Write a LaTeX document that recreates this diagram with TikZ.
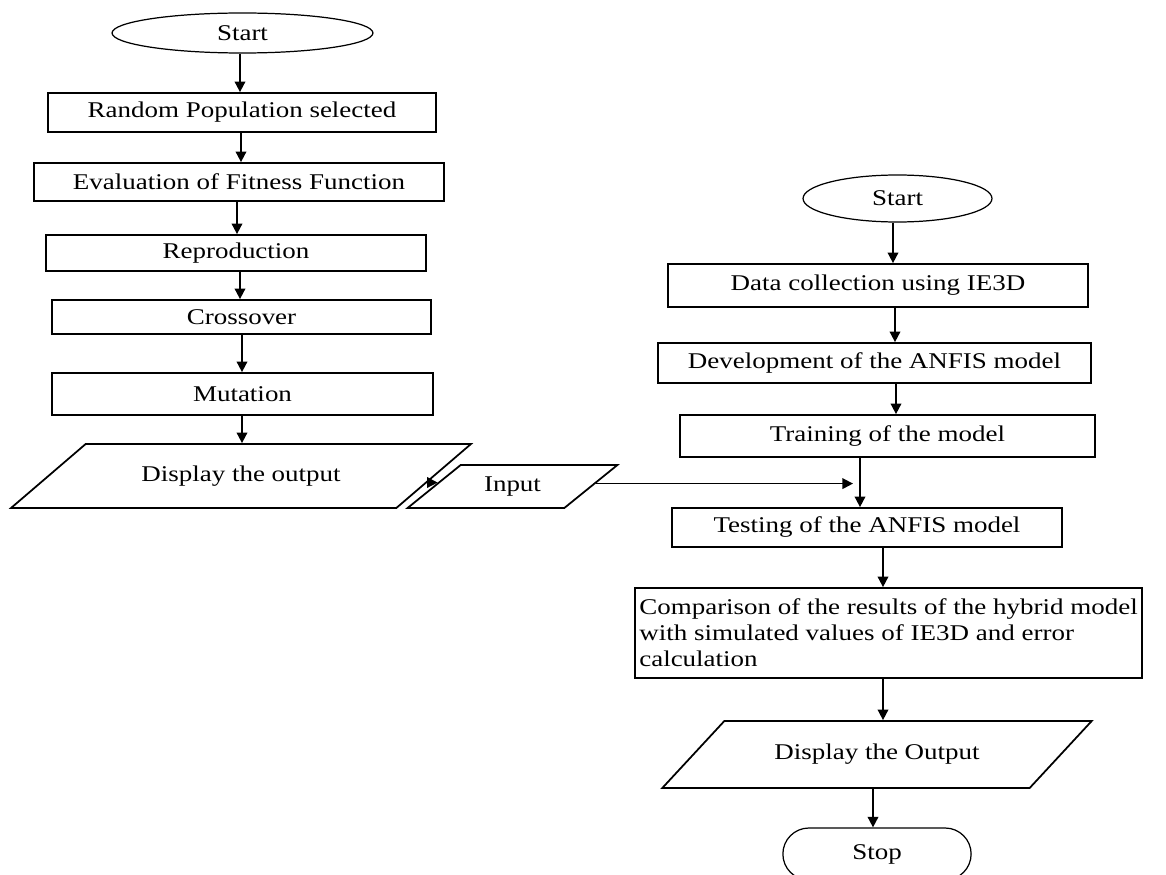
\documentclass[tikz,border=0pt]{standalone}
\usepackage{fontspec}
\setmainfont{Liberation Serif}[FakeStretch=1.2]
\usetikzlibrary{arrows.meta, positioning, shapes.geometric, shapes.misc, calc}

\begin{document}
\begin{tikzpicture}[x=0.02cm, y=-0.02cm,
  font=\fontsize{12.8}{14.7}\selectfont,
  box/.style={draw, line width=1pt, inner sep=2pt},
  oval/.style={draw, ellipse, line width=0.7pt, inner sep=0pt},
  iobox/.style={draw, trapezium, trapezium stretches=true, line width=1pt, inner sep=2pt},
  arr/.style={line width=1pt, -{Triangle[length=6pt,width=6pt]}}]
\useasboundingbox (0,0) rectangle (1166,875);

% GA flow (left)
\node[oval, minimum width=5.22cm, minimum height=0.8cm] (gstart) at (242.5,33) {Start};
\node[box, minimum width=7.76cm, minimum height=0.78cm] (rpop) at (242,112.5) {Random Population selected};
\node[box, minimum width=8.2cm, minimum height=0.76cm] (fit) at (239,182) {Evaluation of Fitness Function};
\node[box, minimum width=7.6cm, minimum height=0.72cm] (repro) at (236,253) {Reproduction};
\node[box, minimum width=7.58cm, minimum height=0.68cm] (cross) at (241.5,317) {Crossover};
\node[box, minimum width=7.62cm, minimum height=0.84cm] (mut) at (242.5,394) {Mutation};
\node[iobox, trapezium left angle=29, trapezium right angle=151,
      minimum width=9.22cm, minimum height=1.28cm] (gout) at (241,476) {Display the output};

\draw[arr] (gstart.south -| 240,0) -- (rpop.north -| 240,0);
\draw[arr] (rpop.south -| 241,0) -- (fit.north -| 241,0);
\draw[arr] (fit.south -| 237,0) -- (repro.north -| 237,0);
\draw[arr] (repro.south -| 240,0) -- (cross.north -| 240,0);
\draw[arr] (cross.south -| 242,0) -- (mut.north -| 242,0);
\draw[arr] (mut.south -| 242,0) -- (gout.north -| 242,0);

% Input
\node[iobox, trapezium left angle=39, trapezium right angle=141,
      minimum width=4.22cm, minimum height=0.86cm] (input) at (512.5,486.5) {Input};
\draw[arr] (gout.-2.5) -- (input.177);

% ANFIS flow (right)
\node[oval, minimum width=3.78cm, minimum height=0.94cm] (astart) at (897.5,198.5) {Start};
\node[box, minimum width=8.4cm, minimum height=0.86cm] (data) at (878,285.5) {Data collection using IE3D};
\node[box, minimum width=8.66cm, minimum height=0.8cm] (dev) at (874.5,363) {Development of the ANFIS model};
\node[box, minimum width=8.3cm, minimum height=0.84cm] (train) at (887.5,436) {Training of the model};
\node[box, minimum width=7.8cm, minimum height=0.78cm] (test) at (867,527.5) {Testing of the ANFIS model};
\node[box, minimum width=10.14cm, minimum height=1.8cm, align=left] (comp) at (888.5,633)
  {Comparison of the results of the hybrid model\\with simulated values of IE3D and error\\calculation};
\node[iobox, trapezium left angle=32.5, trapezium right angle=147.5,
      minimum width=8.6cm, minimum height=1.34cm] (aout) at (877,754.5) {Display the Output};
\node[draw, rounded rectangle, line width=0.7pt, minimum width=4cm, minimum height=1.04cm] (stop) at (877,854) {Stop};

\coordinate (merge) at (860,483);
\draw[arr] (astart.south -| 893,0) -- (data.north -| 893,0);
\draw[arr] (data.south -| 895,0) -- (dev.north -| 895,0);
\draw[arr] (dev.south -| 896,0) -- (train.north -| 896,0);
\draw[arr] (train.south -| merge) -- (test.north -| merge);
\draw[arr] (input.2.4) -- ([xshift=-0.14cm]input.2.4 -| merge);
\draw[arr] (test.south -| 883,0) -- (comp.north -| 883,0);
\draw[arr] (comp.south -| 883,0) -- (aout.north -| 883,0);
\draw[arr] (aout.south -| 873,0) -- (stop.north -| 873,0);

\end{tikzpicture}
\end{document}
